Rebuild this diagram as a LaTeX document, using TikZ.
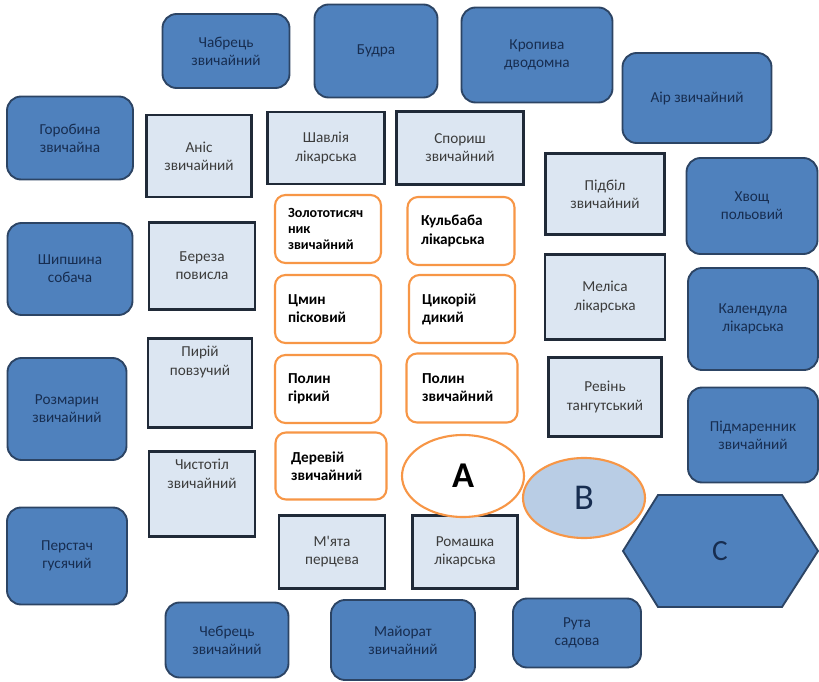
\documentclass[tikz,border=0pt]{standalone}
\usepackage{fontspec}
\setmainfont{Carlito}
\newfontfamily\plainfont{Carlito}
\usetikzlibrary{shapes.geometric,positioning}
\definecolor{darkfill}{RGB}{79,129,189}
\definecolor{darkedge}{RGB}{44,68,100}
\definecolor{darktext}{RGB}{23,45,80}
\definecolor{lightfill}{RGB}{220,230,242}
\definecolor{lightedge}{RGB}{32,42,56}
\definecolor{lighttext}{RGB}{60,60,60}
\definecolor{orangeedge}{RGB}{247,150,70}
\definecolor{bfill}{RGB}{185,205,229}
\tikzset{
  wh/.style 2 args={minimum width=#1*0.03cm, minimum height=#2*0.03cm},
  outerbox/.style={draw=darkedge, fill=darkfill, line width=1.6pt, rounded corners=12pt,
    text=darktext, align=center, inner sep=0pt},
  innerbox/.style={draw=lightedge, fill=lightfill, line width=2.2pt,
    text=lighttext, align=center, inner sep=0pt},
  innertext/.style={text=lighttext, align=center, inner sep=0pt},
  herbbox/.style={draw=orangeedge, fill=white, line width=1.8pt, rounded corners=9pt,
    text=black, font=\fontsize{13}{15.5}\selectfont\bfseries, align=left, text width=2.4cm,
    inner xsep=0.39cm, inner ysep=0pt},
  letterell/.style={draw=orangeedge, ellipse, line width=1.8pt, inner sep=0pt}
}
\begin{document}
\begin{tikzpicture}[x=0.03cm, y=-0.03cm, font=\fontsize{13}{15.5}\selectfont]
  \useasboundingbox (0,0) rectangle (819,682);
  % outer ring
  \node[outerbox, wh={127}{74}] (chabrets) at (226,51) {Чабрець\\звичайний};
  \node[outerbox, wh={123}{93}] (budra) at (376,51) {Будра};
  \node[outerbox, wh={151}{95}] (kropyva) at (537,55) {Кропива\\дводомна};
  \node[outerbox, wh={149}{90}] (air) at (697,98) {Аір звичайний};
  \node[outerbox, wh={126}{83}] (horobyna) at (70,138) {Горобина\\звичайна};
  \node[outerbox, wh={131}{96}] (khvoshch) at (752,206) {Хвощ\\польовий};
  \node[outerbox, wh={125}{92}] (shypshyna) at (70,269) {Шипшина\\собача};
  \node[outerbox, wh={130}{102}] (kalendula) at (753,319) {Календула\\лікарська};
  \node[outerbox, wh={119}{102}] (rozmaryn) at (67,409) {Розмарин\\звичайний};
  \node[outerbox, wh={130}{95}] (pidmarennyk) at (753,435) {Підмаренник\\звичайний};
  \node[outerbox, wh={120}{97}] (perstach) at (67,556) {Перстач\\гусячий};
  \node[outerbox, wh={123}{75}] (chebrets) at (227,640) {Чебрець\\звичайний};
  \node[outerbox, wh={144}{80}] (maiorat) at (403,640) {Майорат\\звичайний};
  \node[outerbox, wh={128}{69}] (ruta) at (577,633) {Рута\\садова};
  % middle ring
  \node[innerbox, wh={105}{82}] (anis) at (199,156) {Аніс\\звичайний};
  \node[innerbox, wh={117}{72}] (shavliia) at (326,148) {Шавлія\\лікарська};
  \node[innerbox, wh={127}{73}] (sporysh) at (460,148) {Спориш\\звичайний};
  \node[innerbox, wh={119}{81}] (pidbil) at (605,194) {Підбіл\\звичайний};
  \node[innerbox, wh={106}{87}] (bereza) at (202,266) {Береза\\повисла};
  \node[innerbox, wh={120}{85}] (melisa) at (605,297) {Меліса\\лікарська};
  \node[innerbox, wh={104}{89}] (pyrii) at (200,383) {};
  \node[innertext, below=0.27cm of pyrii.north] (pyrii-t) {Пирій\\повзучий};
  \node[innerbox, wh={113}{79}] (revin) at (605,397) {Ревінь\\тангутський};
  \node[innerbox, wh={106}{85}] (chystotil) at (202,494) {};
  \node[innertext, below=0.27cm of chystotil.north] (chystotil-t) {Чистотіл\\звичайний};
  \node[innerbox, wh={106}{73}] (miata) at (332,552) {\plainfont М'ята\\перцева};
  \node[innerbox, wh={105}{73}] (romashka) at (465,552) {Ромашка\\лікарська};
  % centre
  \node[herbbox, wh={106}{68}, font=\fontsize{12}{13.5}\selectfont\bfseries] (zolototysiachnyk) at (328,229) {Золототисяч\\ник\\звичайний};
  \node[herbbox, wh={107}{68}] (kulbaba) at (461,231) {Кульбаба\\лікарська};
  \node[herbbox, wh={106}{68}] (tsmyn) at (328,309) {Цмин\\пісковий};
  \node[herbbox, wh={106}{68}] (tsykorii) at (462,309) {Цикорій\\дикий};
  \node[herbbox, wh={105}{68}] (polyn-hirkyi) at (328,389) {Полин\\гіркий};
  \node[herbbox, wh={111}{69}] (polyn-zvych) at (462,388) {Полин\\звичайний};
  \node[herbbox, wh={111}{67}] (derevii) at (331,466) {Деревій\\звичайний};
  \node[letterell, fill=white, wh={122}{82}, font=\fontsize{31}{31}\selectfont\bfseries] (A) at (463,476) {A};
  \node[letterell, fill=bfill, wh={122}{80}, text=darktext, font=\fontsize{31}{31}\selectfont] (B) at (584,498) {B};
  \filldraw[draw=darkedge, fill=darkfill, line width=1.6pt]
    (623,551) -- (658,495) -- (782,495) -- (818,551) -- (782,607) -- (658,607) -- cycle;
  \node[text=darktext, inner sep=0pt, font=\fontsize{25}{25}\selectfont] (C) at (720,551) {C};
\end{tikzpicture}
\end{document}
